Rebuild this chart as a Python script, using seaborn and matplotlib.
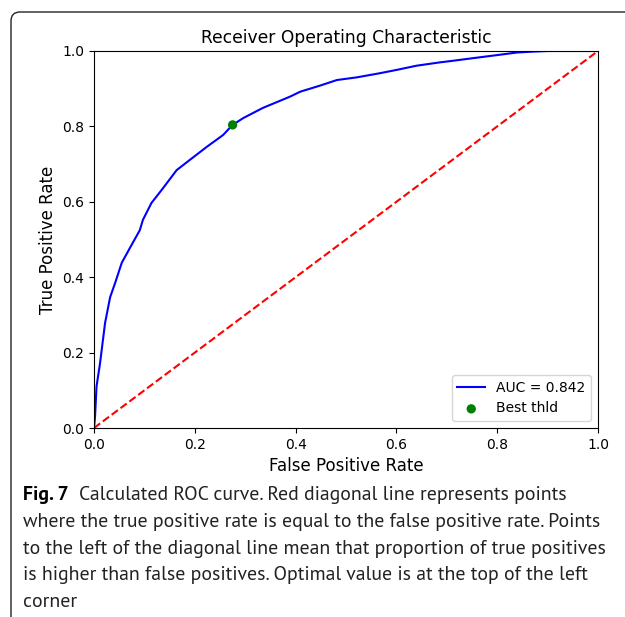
import matplotlib
matplotlib.use("Agg")
import matplotlib.pyplot as plt
import matplotlib.patches as mpatches
from matplotlib.transforms import IdentityTransform
import seaborn as sns
import pandas as pd

# ROC curve values
fpr = [0.0, 0.002, 0.005, 0.012, 0.022, 0.032, 0.042, 0.055, 0.071, 0.091, 0.097,
       0.114, 0.134, 0.164, 0.190, 0.224, 0.256, 0.275, 0.296, 0.335, 0.389, 0.409,
       0.448, 0.482, 0.521, 0.567, 0.601, 0.640, 0.687, 0.706, 0.752, 0.799, 0.839,
       0.865, 0.900, 1.0]
tpr = [0.0, 0.029, 0.110, 0.172, 0.279, 0.347, 0.385, 0.438, 0.477, 0.525, 0.552,
       0.597, 0.631, 0.684, 0.711, 0.746, 0.777, 0.804, 0.822, 0.849, 0.879, 0.892,
       0.908, 0.923, 0.930, 0.941, 0.950, 0.961, 0.970, 0.973, 0.981, 0.989, 0.996,
       0.998, 1.0, 1.0]
diag = [0.0, 1.0]
best_fpr = [0.275]
best_tpr = [0.804]
auc_label = "AUC = 0.842"
best_label = "Best thld"

title = "Receiver Operating Characteristic"
xlabel = "False Positive Rate"
ylabel = "True Positive Rate"
caption_bold = "Fig. 7"
caption_lines = [
    "Calculated ROC curve. Red diagonal line represents points",
    "where the true positive rate is equal to the false positive rate. Points",
    "to the left of the diagonal line mean that proportion of true positives",
    "is higher than false positives. Optimal value is at the top of the left",
    "corner",
]

W, H = 625, 617
fig = plt.figure(figsize=(W / 100, H / 100), dpi=100)
ax = fig.add_axes([94 / W, 1 - 428 / H, (598 - 94) / W, (428 - 51) / H])

df = pd.DataFrame({"fpr": fpr, "tpr": tpr})
sns.lineplot(data=df, x="fpr", y="tpr", ax=ax, color="blue", lw=1.5,
             label=auc_label, sort=False)
ax.plot(diag, diag, "r--", lw=1.5)
sns.scatterplot(x=best_fpr, y=best_tpr, ax=ax, color="green", s=45,
                edgecolor="none", label=best_label, zorder=5)

ax.set_xlim(0, 1)
ax.set_ylim(0, 1)
ax.set_xticks([0, 0.2, 0.4, 0.6, 0.8, 1.0])
ax.set_yticks([0, 0.2, 0.4, 0.6, 0.8, 1.0])
ax.tick_params(labelsize=10)
ax.set_title(title, fontsize=12.3)
ax.set_xlabel(xlabel, fontsize=12)
ax.set_ylabel(ylabel, fontsize=12)
ax.legend(loc="lower right", fontsize=10)

# caption
cap_font = ["PT Sans", "Open Sans"]
cap_size = 14.2
y0 = 1 - 500 / H
dy = 26.8 / H
t = fig.text(23 / W, y0, caption_bold, fontsize=cap_size, fontweight="bold",
             family=cap_font, va="baseline")
fig.canvas.draw()
bb = t.get_window_extent()
fig.text((bb.x1 + 10) / W, y0, caption_lines[0], fontsize=cap_size,
         family=cap_font, va="baseline", color="#222222")
for i, line in enumerate(caption_lines[1:], start=1):
    fig.text(23 / W, y0 - i * dy, line, fontsize=cap_size, family=cap_font,
             va="baseline", color="#222222")

# frame around figure (top and left edges with rounded corner)
frame = mpatches.FancyBboxPatch((11, -200), 900, (H - 12) + 200,
                                boxstyle="round,pad=0,rounding_size=9",
                                transform=IdentityTransform(), fill=False,
                                edgecolor="#222222", lw=1.0)
fig.add_artist(frame)

fig.savefig("out.png", dpi=100)
